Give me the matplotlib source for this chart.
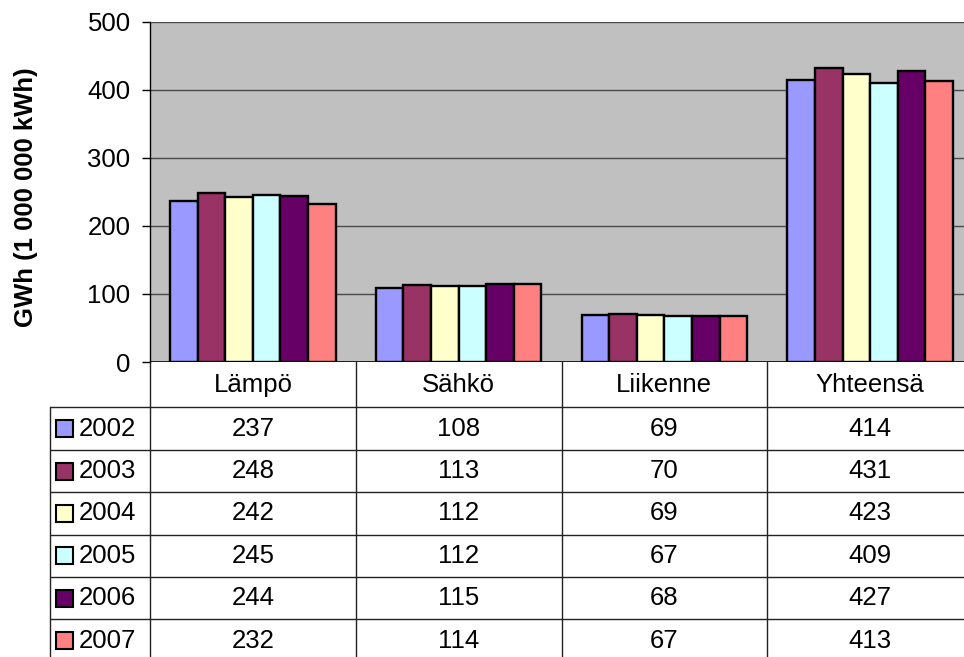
import matplotlib
matplotlib.use("Agg")
import matplotlib.pyplot as plt
from matplotlib.patches import Rectangle
import numpy as np

plt.rcParams['font.family'] = ['Liberation Sans', 'DejaVu Sans']

categories = ["Lämpö", "Sähkö", "Liikenne", "Yhteensä"]
years = ["2002", "2003", "2004", "2005", "2006", "2007"]
v2002 = [237, 108, 69, 414]
v2003 = [248, 113, 70, 431]
v2004 = [242, 112, 69, 423]
v2005 = [245, 112, 67, 409]
v2006 = [244, 115, 68, 427]
v2007 = [232, 114, 67, 413]
series = [v2002, v2003, v2004, v2005, v2006, v2007]
colors = ["#9999FF", "#993366", "#FFFFCC", "#CCFFFF", "#660066", "#FF8080"]
yticks = [0, 100, 200, 300, 400, 500]
ylabel = "GWh (1 000 000 kWh)"

FS = 18.5
W, H = 964, 657
fig = plt.figure(figsize=(W / 100, H / 100), dpi=100)
fig.patch.set_facecolor("white")

# pixel geometry
x0, x1 = 150, 973
ytop, ybot = 21.5, 362
ax = fig.add_axes([x0 / W, (H - ybot) / H, (x1 - x0) / W, (ybot - ytop) / H])
ax.set_facecolor("#C0C0C0")
ax.set_xlim(0, len(categories))
ax.set_ylim(0, 500)

bw = 0.134
for j, (vals, c) in enumerate(zip(series, colors)):
    xs = np.arange(len(categories)) + 0.5 + (j - 2.5) * bw
    ax.bar(xs, vals, width=bw, color=c, edgecolor="black", linewidth=1.7, zorder=3)

for t in yticks[1:]:
    ax.axhline(t, color="#4a4a4a", linewidth=1.0, zorder=1)

ax.set_yticks(yticks)
ax.set_yticklabels([str(t) for t in yticks], fontsize=FS)
ax.tick_params(axis="y", direction="out", length=6, width=1, pad=8, color="black")
ax.set_xticks([])
for s in ["top", "right", "bottom"]:
    ax.spines[s].set_visible(False)
ax.spines["left"].set_color("black")
ax.spines["left"].set_linewidth(1.0)
ax.axhline(0, color="black", linewidth=1.2, zorder=4)

fig.text(26 / W, 1 - 197 / H, ylabel, rotation=90, ha="center", va="center",
         fontsize=18.5, fontweight="bold")

# table overlay in pixel coordinates
ov = fig.add_axes([0, 0, 1, 1])
ov.set_xlim(0, W)
ov.set_ylim(H, 0)
ov.axis("off")
ov.patch.set_alpha(0)

colw = (x1 - x0) / len(categories)
col_edges = [x0 + i * colw for i in range(len(categories) + 1)]
row_edges = [362, 407.3, 450, 492, 534.5, 577, 619.3, 662]
lc = "#222222"
for ry in row_edges[1:-1]:
    ov.plot([50, W + 20], [ry, ry], color=lc, linewidth=1.0, solid_capstyle="butt")
ov.plot([50, 50], [row_edges[1], H + 5], color=lc, linewidth=1.0)
for cx in col_edges[:-1]:
    ov.plot([cx, cx], [362, H + 5], color=lc, linewidth=1.0)

# header row
hy = (row_edges[0] + row_edges[1]) / 2
for i, cat in enumerate(categories):
    ov.text(x0 + (i + 0.5) * colw, hy, cat, ha="center", va="center", fontsize=FS)

# data rows
for j, (yr, vals, c) in enumerate(zip(years, series, colors)):
    cy = (row_edges[j + 1] + row_edges[j + 2]) / 2
    ov.add_patch(Rectangle((55.5, cy - 8.5), 17, 17, facecolor=c, edgecolor="black",
                           linewidth=1.5))
    ov.text(79, cy, yr, ha="left", va="center", fontsize=FS)
    for i, v in enumerate(vals):
        ov.text(x0 + (i + 0.5) * colw, cy, str(v), ha="center", va="center", fontsize=FS)

fig.savefig("out.png", dpi=100)
